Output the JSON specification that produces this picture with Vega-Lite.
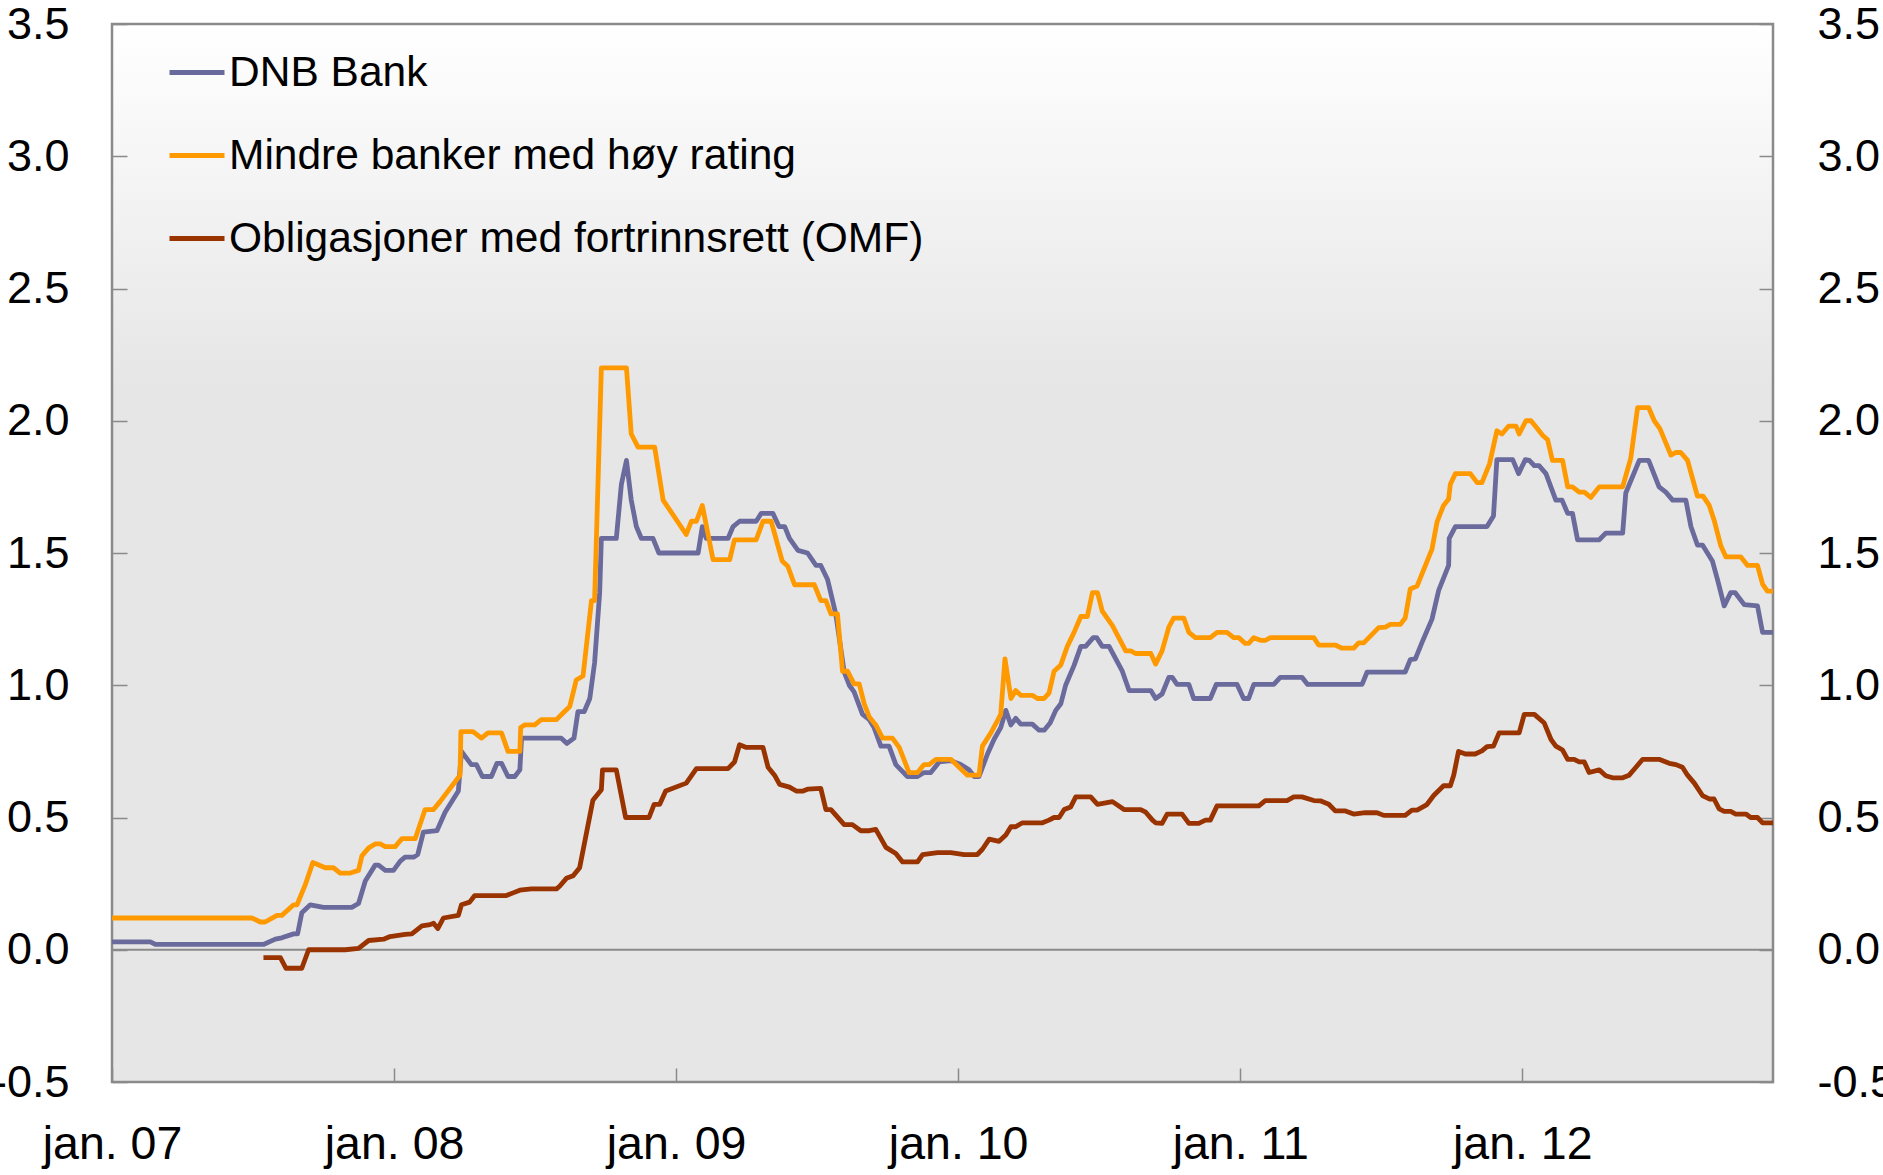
{
"$schema":"https://vega.github.io/schema/vega-lite/v6.json",
"width":1661,"height":1058,
"autosize":{"type":"none"},
"padding":{"left":112,"top":24,"right":110,"bottom":93},
"background":"#ffffff",
"view":{"fill":{"gradient":"linear","x1":0,"y1":0,"x2":0,"y2":1,"stops":[{"offset":0,"color":"#ffffff"},{"offset":0.34,"color":"#e6e6e6"},{"offset":1,"color":"#e6e6e6"}]},"stroke":"#8a8a8a","strokeWidth":2.5},
"config":{"font":"Liberation Sans","axis":{"labelFont":"Liberation Sans","labelColor":"#000000","tickColor":"#8a8a8a","tickWidth":1.5,"domain":false,"grid":false}},
"data":{"values":[
{"serie":"DNB Bank","t":2007.000,"v":0.03},{"serie":"DNB Bank","t":2007.136,"v":0.03},{"serie":"DNB Bank","t":2007.154,"v":0.02},{"serie":"DNB Bank","t":2007.537,"v":0.02},{"serie":"DNB Bank","t":2007.579,"v":0.04},{"serie":"DNB Bank","t":2007.602,"v":0.045},{"serie":"DNB Bank","t":2007.644,"v":0.06},{"serie":"DNB Bank","t":2007.658,"v":0.06},{"serie":"DNB Bank","t":2007.673,"v":0.14},{"serie":"DNB Bank","t":2007.703,"v":0.17},{"serie":"DNB Bank","t":2007.750,"v":0.16},{"serie":"DNB Bank","t":2007.850,"v":0.16},{"serie":"DNB Bank","t":2007.874,"v":0.175},{"serie":"DNB Bank","t":2007.898,"v":0.26},{"serie":"DNB Bank","t":2007.933,"v":0.32},{"serie":"DNB Bank","t":2007.945,"v":0.32},{"serie":"DNB Bank","t":2007.969,"v":0.30},{"serie":"DNB Bank","t":2007.998,"v":0.30},{"serie":"DNB Bank","t":2008.022,"v":0.335},{"serie":"DNB Bank","t":2008.039,"v":0.35},{"serie":"DNB Bank","t":2008.069,"v":0.35},{"serie":"DNB Bank","t":2008.084,"v":0.36},{"serie":"DNB Bank","t":2008.104,"v":0.445},{"serie":"DNB Bank","t":2008.152,"v":0.45},{"serie":"DNB Bank","t":2008.181,"v":0.52},{"serie":"DNB Bank","t":2008.228,"v":0.60},{"serie":"DNB Bank","t":2008.239,"v":0.75},{"serie":"DNB Bank","t":2008.274,"v":0.70},{"serie":"DNB Bank","t":2008.292,"v":0.70},{"serie":"DNB Bank","t":2008.313,"v":0.655},{"serie":"DNB Bank","t":2008.345,"v":0.655},{"serie":"DNB Bank","t":2008.365,"v":0.705},{"serie":"DNB Bank","t":2008.381,"v":0.705},{"serie":"DNB Bank","t":2008.404,"v":0.655},{"serie":"DNB Bank","t":2008.428,"v":0.655},{"serie":"DNB Bank","t":2008.446,"v":0.68},{"serie":"DNB Bank","t":2008.452,"v":0.80},{"serie":"DNB Bank","t":2008.593,"v":0.80},{"serie":"DNB Bank","t":2008.613,"v":0.78},{"serie":"DNB Bank","t":2008.638,"v":0.80},{"serie":"DNB Bank","t":2008.652,"v":0.90},{"serie":"DNB Bank","t":2008.674,"v":0.90},{"serie":"DNB Bank","t":2008.694,"v":0.95},{"serie":"DNB Bank","t":2008.711,"v":1.085},{"serie":"DNB Bank","t":2008.729,"v":1.35},{"serie":"DNB Bank","t":2008.735,"v":1.555},{"serie":"DNB Bank","t":2008.788,"v":1.555},{"serie":"DNB Bank","t":2008.806,"v":1.76},{"serie":"DNB Bank","t":2008.824,"v":1.85},{"serie":"DNB Bank","t":2008.841,"v":1.70},{"serie":"DNB Bank","t":2008.859,"v":1.60},{"serie":"DNB Bank","t":2008.877,"v":1.555},{"serie":"DNB Bank","t":2008.918,"v":1.555},{"serie":"DNB Bank","t":2008.939,"v":1.50},{"serie":"DNB Bank","t":2009.078,"v":1.50},{"serie":"DNB Bank","t":2009.093,"v":1.60},{"serie":"DNB Bank","t":2009.107,"v":1.555},{"serie":"DNB Bank","t":2009.184,"v":1.555},{"serie":"DNB Bank","t":2009.202,"v":1.60},{"serie":"DNB Bank","t":2009.225,"v":1.62},{"serie":"DNB Bank","t":2009.284,"v":1.62},{"serie":"DNB Bank","t":2009.302,"v":1.65},{"serie":"DNB Bank","t":2009.343,"v":1.65},{"serie":"DNB Bank","t":2009.365,"v":1.60},{"serie":"DNB Bank","t":2009.385,"v":1.60},{"serie":"DNB Bank","t":2009.402,"v":1.555},{"serie":"DNB Bank","t":2009.432,"v":1.51},{"serie":"DNB Bank","t":2009.466,"v":1.50},{"serie":"DNB Bank","t":2009.496,"v":1.453},{"serie":"DNB Bank","t":2009.513,"v":1.453},{"serie":"DNB Bank","t":2009.537,"v":1.40},{"serie":"DNB Bank","t":2009.566,"v":1.27},{"serie":"DNB Bank","t":2009.596,"v":1.05},{"serie":"DNB Bank","t":2009.614,"v":1.00},{"serie":"DNB Bank","t":2009.631,"v":0.975},{"serie":"DNB Bank","t":2009.661,"v":0.89},{"serie":"DNB Bank","t":2009.685,"v":0.87},{"serie":"DNB Bank","t":2009.702,"v":0.84},{"serie":"DNB Bank","t":2009.726,"v":0.77},{"serie":"DNB Bank","t":2009.755,"v":0.77},{"serie":"DNB Bank","t":2009.779,"v":0.70},{"serie":"DNB Bank","t":2009.797,"v":0.68},{"serie":"DNB Bank","t":2009.820,"v":0.655},{"serie":"DNB Bank","t":2009.856,"v":0.655},{"serie":"DNB Bank","t":2009.879,"v":0.67},{"serie":"DNB Bank","t":2009.903,"v":0.67},{"serie":"DNB Bank","t":2009.933,"v":0.71},{"serie":"DNB Bank","t":2009.974,"v":0.715},{"serie":"DNB Bank","t":2010.009,"v":0.70},{"serie":"DNB Bank","t":2010.039,"v":0.68},{"serie":"DNB Bank","t":2010.057,"v":0.655},{"serie":"DNB Bank","t":2010.074,"v":0.655},{"serie":"DNB Bank","t":2010.104,"v":0.74},{"serie":"DNB Bank","t":2010.127,"v":0.795},{"serie":"DNB Bank","t":2010.151,"v":0.84},{"serie":"DNB Bank","t":2010.169,"v":0.905},{"serie":"DNB Bank","t":2010.187,"v":0.85},{"serie":"DNB Bank","t":2010.204,"v":0.875},{"serie":"DNB Bank","t":2010.222,"v":0.853},{"serie":"DNB Bank","t":2010.263,"v":0.853},{"serie":"DNB Bank","t":2010.287,"v":0.83},{"serie":"DNB Bank","t":2010.305,"v":0.83},{"serie":"DNB Bank","t":2010.326,"v":0.857},{"serie":"DNB Bank","t":2010.346,"v":0.905},{"serie":"DNB Bank","t":2010.364,"v":0.93},{"serie":"DNB Bank","t":2010.381,"v":1.00},{"serie":"DNB Bank","t":2010.411,"v":1.075},{"serie":"DNB Bank","t":2010.435,"v":1.147},{"serie":"DNB Bank","t":2010.452,"v":1.147},{"serie":"DNB Bank","t":2010.479,"v":1.18},{"serie":"DNB Bank","t":2010.491,"v":1.18},{"serie":"DNB Bank","t":2010.511,"v":1.147},{"serie":"DNB Bank","t":2010.535,"v":1.147},{"serie":"DNB Bank","t":2010.582,"v":1.053},{"serie":"DNB Bank","t":2010.606,"v":0.98},{"serie":"DNB Bank","t":2010.683,"v":0.98},{"serie":"DNB Bank","t":2010.700,"v":0.95},{"serie":"DNB Bank","t":2010.723,"v":0.967},{"serie":"DNB Bank","t":2010.747,"v":1.03},{"serie":"DNB Bank","t":2010.759,"v":1.03},{"serie":"DNB Bank","t":2010.776,"v":1.003},{"serie":"DNB Bank","t":2010.818,"v":1.003},{"serie":"DNB Bank","t":2010.835,"v":0.95},{"serie":"DNB Bank","t":2010.894,"v":0.95},{"serie":"DNB Bank","t":2010.915,"v":1.003},{"serie":"DNB Bank","t":2010.989,"v":1.003},{"serie":"DNB Bank","t":2011.012,"v":0.95},{"serie":"DNB Bank","t":2011.030,"v":0.95},{"serie":"DNB Bank","t":2011.048,"v":1.003},{"serie":"DNB Bank","t":2011.119,"v":1.003},{"serie":"DNB Bank","t":2011.142,"v":1.03},{"serie":"DNB Bank","t":2011.219,"v":1.03},{"serie":"DNB Bank","t":2011.239,"v":1.003},{"serie":"DNB Bank","t":2011.432,"v":1.003},{"serie":"DNB Bank","t":2011.450,"v":1.05},{"serie":"DNB Bank","t":2011.585,"v":1.05},{"serie":"DNB Bank","t":2011.603,"v":1.097},{"serie":"DNB Bank","t":2011.621,"v":1.10},{"serie":"DNB Bank","t":2011.645,"v":1.163},{"serie":"DNB Bank","t":2011.680,"v":1.25},{"serie":"DNB Bank","t":2011.704,"v":1.36},{"serie":"DNB Bank","t":2011.739,"v":1.453},{"serie":"DNB Bank","t":2011.741,"v":1.555},{"serie":"DNB Bank","t":2011.763,"v":1.60},{"serie":"DNB Bank","t":2011.875,"v":1.60},{"serie":"DNB Bank","t":2011.898,"v":1.64},{"serie":"DNB Bank","t":2011.910,"v":1.853},{"serie":"DNB Bank","t":2011.966,"v":1.853},{"serie":"DNB Bank","t":2011.987,"v":1.80},{"serie":"DNB Bank","t":2012.011,"v":1.853},{"serie":"DNB Bank","t":2012.025,"v":1.85},{"serie":"DNB Bank","t":2012.043,"v":1.83},{"serie":"DNB Bank","t":2012.060,"v":1.83},{"serie":"DNB Bank","t":2012.084,"v":1.80},{"serie":"DNB Bank","t":2012.119,"v":1.70},{"serie":"DNB Bank","t":2012.141,"v":1.70},{"serie":"DNB Bank","t":2012.161,"v":1.65},{"serie":"DNB Bank","t":2012.178,"v":1.65},{"serie":"DNB Bank","t":2012.196,"v":1.55},{"serie":"DNB Bank","t":2012.273,"v":1.55},{"serie":"DNB Bank","t":2012.296,"v":1.575},{"serie":"DNB Bank","t":2012.356,"v":1.575},{"serie":"DNB Bank","t":2012.367,"v":1.727},{"serie":"DNB Bank","t":2012.415,"v":1.85},{"serie":"DNB Bank","t":2012.448,"v":1.85},{"serie":"DNB Bank","t":2012.485,"v":1.75},{"serie":"DNB Bank","t":2012.509,"v":1.73},{"serie":"DNB Bank","t":2012.533,"v":1.70},{"serie":"DNB Bank","t":2012.580,"v":1.70},{"serie":"DNB Bank","t":2012.598,"v":1.60},{"serie":"DNB Bank","t":2012.621,"v":1.53},{"serie":"DNB Bank","t":2012.639,"v":1.53},{"serie":"DNB Bank","t":2012.674,"v":1.47},{"serie":"DNB Bank","t":2012.692,"v":1.40},{"serie":"DNB Bank","t":2012.716,"v":1.30},{"serie":"DNB Bank","t":2012.739,"v":1.35},{"serie":"DNB Bank","t":2012.755,"v":1.35},{"serie":"DNB Bank","t":2012.787,"v":1.305},{"serie":"DNB Bank","t":2012.834,"v":1.30},{"serie":"DNB Bank","t":2012.852,"v":1.20},{"serie":"DNB Bank","t":2012.889,"v":1.20},
{"serie":"Mindre banker med høy rating","t":2007.000,"v":0.12},{"serie":"Mindre banker med høy rating","t":2007.496,"v":0.12},{"serie":"Mindre banker med høy rating","t":2007.526,"v":0.105},{"serie":"Mindre banker med høy rating","t":2007.543,"v":0.105},{"serie":"Mindre banker med høy rating","t":2007.585,"v":0.13},{"serie":"Mindre banker med høy rating","t":2007.602,"v":0.13},{"serie":"Mindre banker med høy rating","t":2007.644,"v":0.17},{"serie":"Mindre banker med høy rating","t":2007.656,"v":0.17},{"serie":"Mindre banker med høy rating","t":2007.685,"v":0.245},{"serie":"Mindre banker med høy rating","t":2007.712,"v":0.33},{"serie":"Mindre banker med høy rating","t":2007.756,"v":0.31},{"serie":"Mindre banker med høy rating","t":2007.785,"v":0.31},{"serie":"Mindre banker med høy rating","t":2007.809,"v":0.29},{"serie":"Mindre banker med høy rating","t":2007.845,"v":0.29},{"serie":"Mindre banker med høy rating","t":2007.874,"v":0.30},{"serie":"Mindre banker med høy rating","t":2007.886,"v":0.355},{"serie":"Mindre banker med høy rating","t":2007.910,"v":0.385},{"serie":"Mindre banker med høy rating","t":2007.933,"v":0.40},{"serie":"Mindre banker med høy rating","t":2007.951,"v":0.40},{"serie":"Mindre banker med høy rating","t":2007.969,"v":0.39},{"serie":"Mindre banker med høy rating","t":2008.004,"v":0.39},{"serie":"Mindre banker med høy rating","t":2008.028,"v":0.42},{"serie":"Mindre banker med høy rating","t":2008.075,"v":0.42},{"serie":"Mindre banker med høy rating","t":2008.110,"v":0.53},{"serie":"Mindre banker med høy rating","t":2008.140,"v":0.53},{"serie":"Mindre banker med høy rating","t":2008.163,"v":0.56},{"serie":"Mindre banker med høy rating","t":2008.234,"v":0.66},{"serie":"Mindre banker med høy rating","t":2008.237,"v":0.825},{"serie":"Mindre banker med høy rating","t":2008.280,"v":0.825},{"serie":"Mindre banker med høy rating","t":2008.310,"v":0.80},{"serie":"Mindre banker med høy rating","t":2008.333,"v":0.82},{"serie":"Mindre banker med høy rating","t":2008.381,"v":0.82},{"serie":"Mindre banker med høy rating","t":2008.404,"v":0.75},{"serie":"Mindre banker med høy rating","t":2008.446,"v":0.75},{"serie":"Mindre banker med høy rating","t":2008.449,"v":0.84},{"serie":"Mindre banker med høy rating","t":2008.463,"v":0.85},{"serie":"Mindre banker med høy rating","t":2008.499,"v":0.85},{"serie":"Mindre banker med høy rating","t":2008.522,"v":0.87},{"serie":"Mindre banker med høy rating","t":2008.576,"v":0.87},{"serie":"Mindre banker med høy rating","t":2008.599,"v":0.895},{"serie":"Mindre banker med høy rating","t":2008.623,"v":0.92},{"serie":"Mindre banker med høy rating","t":2008.646,"v":1.02},{"serie":"Mindre banker med høy rating","t":2008.670,"v":1.035},{"serie":"Mindre banker med høy rating","t":2008.700,"v":1.32},{"serie":"Mindre banker med høy rating","t":2008.711,"v":1.32},{"serie":"Mindre banker med høy rating","t":2008.735,"v":2.20},{"serie":"Mindre banker med høy rating","t":2008.824,"v":2.20},{"serie":"Mindre banker med høy rating","t":2008.841,"v":1.95},{"serie":"Mindre banker med høy rating","t":2008.865,"v":1.90},{"serie":"Mindre banker med høy rating","t":2008.924,"v":1.90},{"serie":"Mindre banker med høy rating","t":2008.954,"v":1.70},{"serie":"Mindre banker med høy rating","t":2009.036,"v":1.57},{"serie":"Mindre banker med høy rating","t":2009.054,"v":1.62},{"serie":"Mindre banker med høy rating","t":2009.072,"v":1.62},{"serie":"Mindre banker med høy rating","t":2009.093,"v":1.68},{"serie":"Mindre banker med høy rating","t":2009.131,"v":1.475},{"serie":"Mindre banker med høy rating","t":2009.190,"v":1.475},{"serie":"Mindre banker med høy rating","t":2009.207,"v":1.55},{"serie":"Mindre banker med høy rating","t":2009.284,"v":1.55},{"serie":"Mindre banker med høy rating","t":2009.308,"v":1.62},{"serie":"Mindre banker med høy rating","t":2009.337,"v":1.62},{"serie":"Mindre banker med høy rating","t":2009.376,"v":1.47},{"serie":"Mindre banker med høy rating","t":2009.396,"v":1.45},{"serie":"Mindre banker med høy rating","t":2009.420,"v":1.38},{"serie":"Mindre banker med høy rating","t":2009.490,"v":1.38},{"serie":"Mindre banker med høy rating","t":2009.513,"v":1.32},{"serie":"Mindre banker med høy rating","t":2009.531,"v":1.32},{"serie":"Mindre banker med høy rating","t":2009.549,"v":1.27},{"serie":"Mindre banker med høy rating","t":2009.572,"v":1.27},{"serie":"Mindre banker med høy rating","t":2009.590,"v":1.053},{"serie":"Mindre banker med høy rating","t":2009.608,"v":1.053},{"serie":"Mindre banker med høy rating","t":2009.631,"v":1.005},{"serie":"Mindre banker med høy rating","t":2009.649,"v":1.005},{"serie":"Mindre banker med høy rating","t":2009.667,"v":0.93},{"serie":"Mindre banker med høy rating","t":2009.685,"v":0.88},{"serie":"Mindre banker med høy rating","t":2009.708,"v":0.85},{"serie":"Mindre banker med høy rating","t":2009.732,"v":0.80},{"serie":"Mindre banker med høy rating","t":2009.767,"v":0.80},{"serie":"Mindre banker med høy rating","t":2009.791,"v":0.765},{"serie":"Mindre banker med høy rating","t":2009.826,"v":0.67},{"serie":"Mindre banker med høy rating","t":2009.856,"v":0.67},{"serie":"Mindre banker med høy rating","t":2009.879,"v":0.70},{"serie":"Mindre banker med høy rating","t":2009.897,"v":0.70},{"serie":"Mindre banker med høy rating","t":2009.921,"v":0.72},{"serie":"Mindre banker med høy rating","t":2009.974,"v":0.72},{"serie":"Mindre banker med høy rating","t":2010.033,"v":0.66},{"serie":"Mindre banker med høy rating","t":2010.074,"v":0.66},{"serie":"Mindre banker med høy rating","t":2010.086,"v":0.77},{"serie":"Mindre banker med høy rating","t":2010.116,"v":0.82},{"serie":"Mindre banker med høy rating","t":2010.139,"v":0.865},{"serie":"Mindre banker med høy rating","t":2010.151,"v":0.89},{"serie":"Mindre banker med høy rating","t":2010.166,"v":1.10},{"serie":"Mindre banker med høy rating","t":2010.187,"v":0.95},{"serie":"Mindre banker med høy rating","t":2010.204,"v":0.98},{"serie":"Mindre banker med høy rating","t":2010.222,"v":0.962},{"serie":"Mindre banker med høy rating","t":2010.263,"v":0.962},{"serie":"Mindre banker med høy rating","t":2010.281,"v":0.95},{"serie":"Mindre banker med høy rating","t":2010.305,"v":0.95},{"serie":"Mindre banker med høy rating","t":2010.322,"v":0.97},{"serie":"Mindre banker med høy rating","t":2010.340,"v":1.053},{"serie":"Mindre banker med høy rating","t":2010.364,"v":1.077},{"serie":"Mindre banker med høy rating","t":2010.387,"v":1.147},{"serie":"Mindre banker med høy rating","t":2010.411,"v":1.20},{"serie":"Mindre banker med høy rating","t":2010.435,"v":1.26},{"serie":"Mindre banker med høy rating","t":2010.458,"v":1.26},{"serie":"Mindre banker med høy rating","t":2010.476,"v":1.35},{"serie":"Mindre banker med høy rating","t":2010.494,"v":1.35},{"serie":"Mindre banker med høy rating","t":2010.511,"v":1.28},{"serie":"Mindre banker med høy rating","t":2010.547,"v":1.225},{"serie":"Mindre banker med høy rating","t":2010.594,"v":1.13},{"serie":"Mindre banker med høy rating","t":2010.612,"v":1.13},{"serie":"Mindre banker med høy rating","t":2010.629,"v":1.12},{"serie":"Mindre banker med høy rating","t":2010.683,"v":1.12},{"serie":"Mindre banker med høy rating","t":2010.700,"v":1.08},{"serie":"Mindre banker med høy rating","t":2010.723,"v":1.13},{"serie":"Mindre banker med høy rating","t":2010.747,"v":1.22},{"serie":"Mindre banker med høy rating","t":2010.764,"v":1.254},{"serie":"Mindre banker med høy rating","t":2010.800,"v":1.254},{"serie":"Mindre banker med høy rating","t":2010.818,"v":1.20},{"serie":"Mindre banker med høy rating","t":2010.841,"v":1.18},{"serie":"Mindre banker med høy rating","t":2010.894,"v":1.18},{"serie":"Mindre banker med høy rating","t":2010.918,"v":1.20},{"serie":"Mindre banker med høy rating","t":2010.953,"v":1.20},{"serie":"Mindre banker med høy rating","t":2010.977,"v":1.18},{"serie":"Mindre banker med høy rating","t":2010.995,"v":1.18},{"serie":"Mindre banker med høy rating","t":2011.018,"v":1.158},{"serie":"Mindre banker med høy rating","t":2011.030,"v":1.158},{"serie":"Mindre banker med høy rating","t":2011.048,"v":1.18},{"serie":"Mindre banker med høy rating","t":2011.072,"v":1.17},{"serie":"Mindre banker med høy rating","t":2011.089,"v":1.17},{"serie":"Mindre banker med høy rating","t":2011.107,"v":1.18},{"serie":"Mindre banker med høy rating","t":2011.261,"v":1.18},{"serie":"Mindre banker med høy rating","t":2011.278,"v":1.152},{"serie":"Mindre banker med høy rating","t":2011.337,"v":1.152},{"serie":"Mindre banker med høy rating","t":2011.361,"v":1.14},{"serie":"Mindre banker med høy rating","t":2011.402,"v":1.14},{"serie":"Mindre banker med høy rating","t":2011.420,"v":1.16},{"serie":"Mindre banker med høy rating","t":2011.438,"v":1.16},{"serie":"Mindre banker med høy rating","t":2011.491,"v":1.218},{"serie":"Mindre banker med høy rating","t":2011.515,"v":1.22},{"serie":"Mindre banker med høy rating","t":2011.532,"v":1.23},{"serie":"Mindre banker med høy rating","t":2011.568,"v":1.23},{"serie":"Mindre banker med høy rating","t":2011.585,"v":1.254},{"serie":"Mindre banker med høy rating","t":2011.603,"v":1.364},{"serie":"Mindre banker med høy rating","t":2011.627,"v":1.375},{"serie":"Mindre banker med høy rating","t":2011.680,"v":1.515},{"serie":"Mindre banker med høy rating","t":2011.698,"v":1.618},{"serie":"Mindre banker med høy rating","t":2011.721,"v":1.68},{"serie":"Mindre banker med høy rating","t":2011.739,"v":1.704},{"serie":"Mindre banker med høy rating","t":2011.745,"v":1.76},{"serie":"Mindre banker med høy rating","t":2011.763,"v":1.80},{"serie":"Mindre banker med høy rating","t":2011.816,"v":1.80},{"serie":"Mindre banker med høy rating","t":2011.840,"v":1.766},{"serie":"Mindre banker med høy rating","t":2011.857,"v":1.766},{"serie":"Mindre banker med høy rating","t":2011.884,"v":1.837},{"serie":"Mindre banker med høy rating","t":2011.910,"v":1.962},{"serie":"Mindre banker med høy rating","t":2011.928,"v":1.95},{"serie":"Mindre banker med høy rating","t":2011.952,"v":1.98},{"serie":"Mindre banker med høy rating","t":2011.978,"v":1.98},{"serie":"Mindre banker med høy rating","t":2011.989,"v":1.95},{"serie":"Mindre banker med høy rating","t":2012.013,"v":2.00},{"serie":"Mindre banker med høy rating","t":2012.031,"v":2.00},{"serie":"Mindre banker med høy rating","t":2012.054,"v":1.97},{"serie":"Mindre banker med høy rating","t":2012.072,"v":1.945},{"serie":"Mindre banker med høy rating","t":2012.090,"v":1.928},{"serie":"Mindre banker med høy rating","t":2012.107,"v":1.85},{"serie":"Mindre banker med høy rating","t":2012.143,"v":1.85},{"serie":"Mindre banker med høy rating","t":2012.161,"v":1.75},{"serie":"Mindre banker med høy rating","t":2012.178,"v":1.75},{"serie":"Mindre banker med høy rating","t":2012.202,"v":1.73},{"serie":"Mindre banker med høy rating","t":2012.220,"v":1.73},{"serie":"Mindre banker med høy rating","t":2012.243,"v":1.71},{"serie":"Mindre banker med høy rating","t":2012.273,"v":1.75},{"serie":"Mindre banker med høy rating","t":2012.356,"v":1.75},{"serie":"Mindre banker med høy rating","t":2012.385,"v":1.86},{"serie":"Mindre banker med høy rating","t":2012.409,"v":2.05},{"serie":"Mindre banker med høy rating","t":2012.448,"v":2.05},{"serie":"Mindre banker med høy rating","t":2012.468,"v":2.00},{"serie":"Mindre banker med høy rating","t":2012.488,"v":1.97},{"serie":"Mindre banker med høy rating","t":2012.527,"v":1.87},{"serie":"Mindre banker med høy rating","t":2012.545,"v":1.88},{"serie":"Mindre banker med høy rating","t":2012.562,"v":1.88},{"serie":"Mindre banker med høy rating","t":2012.586,"v":1.85},{"serie":"Mindre banker med høy rating","t":2012.621,"v":1.715},{"serie":"Mindre banker med høy rating","t":2012.641,"v":1.715},{"serie":"Mindre banker med høy rating","t":2012.663,"v":1.68},{"serie":"Mindre banker med høy rating","t":2012.680,"v":1.625},{"serie":"Mindre banker med høy rating","t":2012.704,"v":1.527},{"serie":"Mindre banker med høy rating","t":2012.722,"v":1.485},{"serie":"Mindre banker med høy rating","t":2012.775,"v":1.485},{"serie":"Mindre banker med høy rating","t":2012.799,"v":1.453},{"serie":"Mindre banker med høy rating","t":2012.834,"v":1.453},{"serie":"Mindre banker med høy rating","t":2012.852,"v":1.382},{"serie":"Mindre banker med høy rating","t":2012.869,"v":1.356},{"serie":"Mindre banker med høy rating","t":2012.889,"v":1.356},
{"serie":"Obligasjoner med fortrinnsrett (OMF)","t":2007.537,"v":-0.03},{"serie":"Obligasjoner med fortrinnsrett (OMF)","t":2007.597,"v":-0.03},{"serie":"Obligasjoner med fortrinnsrett (OMF)","t":2007.617,"v":-0.07},{"serie":"Obligasjoner med fortrinnsrett (OMF)","t":2007.673,"v":-0.07},{"serie":"Obligasjoner med fortrinnsrett (OMF)","t":2007.697,"v":0.0},{"serie":"Obligasjoner med fortrinnsrett (OMF)","t":2007.827,"v":0.0},{"serie":"Obligasjoner med fortrinnsrett (OMF)","t":2007.874,"v":0.005},{"serie":"Obligasjoner med fortrinnsrett (OMF)","t":2007.910,"v":0.035},{"serie":"Obligasjoner med fortrinnsrett (OMF)","t":2007.963,"v":0.04},{"serie":"Obligasjoner med fortrinnsrett (OMF)","t":2007.986,"v":0.05},{"serie":"Obligasjoner med fortrinnsrett (OMF)","t":2008.039,"v":0.058},{"serie":"Obligasjoner med fortrinnsrett (OMF)","t":2008.063,"v":0.06},{"serie":"Obligasjoner med fortrinnsrett (OMF)","t":2008.099,"v":0.09},{"serie":"Obligasjoner med fortrinnsrett (OMF)","t":2008.128,"v":0.095},{"serie":"Obligasjoner med fortrinnsrett (OMF)","t":2008.140,"v":0.10},{"serie":"Obligasjoner med fortrinnsrett (OMF)","t":2008.155,"v":0.08},{"serie":"Obligasjoner med fortrinnsrett (OMF)","t":2008.175,"v":0.12},{"serie":"Obligasjoner med fortrinnsrett (OMF)","t":2008.228,"v":0.13},{"serie":"Obligasjoner med fortrinnsrett (OMF)","t":2008.239,"v":0.17},{"serie":"Obligasjoner med fortrinnsrett (OMF)","t":2008.268,"v":0.18},{"serie":"Obligasjoner med fortrinnsrett (OMF)","t":2008.286,"v":0.205},{"serie":"Obligasjoner med fortrinnsrett (OMF)","t":2008.398,"v":0.205},{"serie":"Obligasjoner med fortrinnsrett (OMF)","t":2008.422,"v":0.215},{"serie":"Obligasjoner med fortrinnsrett (OMF)","t":2008.446,"v":0.225},{"serie":"Obligasjoner med fortrinnsrett (OMF)","t":2008.487,"v":0.23},{"serie":"Obligasjoner med fortrinnsrett (OMF)","t":2008.576,"v":0.23},{"serie":"Obligasjoner med fortrinnsrett (OMF)","t":2008.587,"v":0.24},{"serie":"Obligasjoner med fortrinnsrett (OMF)","t":2008.611,"v":0.27},{"serie":"Obligasjoner med fortrinnsrett (OMF)","t":2008.635,"v":0.28},{"serie":"Obligasjoner med fortrinnsrett (OMF)","t":2008.658,"v":0.31},{"serie":"Obligasjoner med fortrinnsrett (OMF)","t":2008.705,"v":0.565},{"serie":"Obligasjoner med fortrinnsrett (OMF)","t":2008.735,"v":0.605},{"serie":"Obligasjoner med fortrinnsrett (OMF)","t":2008.739,"v":0.68},{"serie":"Obligasjoner med fortrinnsrett (OMF)","t":2008.788,"v":0.68},{"serie":"Obligasjoner med fortrinnsrett (OMF)","t":2008.821,"v":0.50},{"serie":"Obligasjoner med fortrinnsrett (OMF)","t":2008.904,"v":0.50},{"serie":"Obligasjoner med fortrinnsrett (OMF)","t":2008.922,"v":0.55},{"serie":"Obligasjoner med fortrinnsrett (OMF)","t":2008.942,"v":0.55},{"serie":"Obligasjoner med fortrinnsrett (OMF)","t":2008.963,"v":0.60},{"serie":"Obligasjoner med fortrinnsrett (OMF)","t":2009.036,"v":0.63},{"serie":"Obligasjoner med fortrinnsrett (OMF)","t":2009.072,"v":0.685},{"serie":"Obligasjoner med fortrinnsrett (OMF)","t":2009.184,"v":0.685},{"serie":"Obligasjoner med fortrinnsrett (OMF)","t":2009.207,"v":0.71},{"serie":"Obligasjoner med fortrinnsrett (OMF)","t":2009.225,"v":0.775},{"serie":"Obligasjoner med fortrinnsrett (OMF)","t":2009.249,"v":0.765},{"serie":"Obligasjoner med fortrinnsrett (OMF)","t":2009.308,"v":0.765},{"serie":"Obligasjoner med fortrinnsrett (OMF)","t":2009.326,"v":0.69},{"serie":"Obligasjoner med fortrinnsrett (OMF)","t":2009.349,"v":0.66},{"serie":"Obligasjoner med fortrinnsrett (OMF)","t":2009.367,"v":0.625},{"serie":"Obligasjoner med fortrinnsrett (OMF)","t":2009.402,"v":0.615},{"serie":"Obligasjoner med fortrinnsrett (OMF)","t":2009.426,"v":0.60},{"serie":"Obligasjoner med fortrinnsrett (OMF)","t":2009.450,"v":0.60},{"serie":"Obligasjoner med fortrinnsrett (OMF)","t":2009.466,"v":0.607},{"serie":"Obligasjoner med fortrinnsrett (OMF)","t":2009.513,"v":0.61},{"serie":"Obligasjoner med fortrinnsrett (OMF)","t":2009.531,"v":0.53},{"serie":"Obligasjoner med fortrinnsrett (OMF)","t":2009.549,"v":0.53},{"serie":"Obligasjoner med fortrinnsrett (OMF)","t":2009.596,"v":0.473},{"serie":"Obligasjoner med fortrinnsrett (OMF)","t":2009.625,"v":0.473},{"serie":"Obligasjoner med fortrinnsrett (OMF)","t":2009.655,"v":0.45},{"serie":"Obligasjoner med fortrinnsrett (OMF)","t":2009.685,"v":0.45},{"serie":"Obligasjoner med fortrinnsrett (OMF)","t":2009.708,"v":0.455},{"serie":"Obligasjoner med fortrinnsrett (OMF)","t":2009.744,"v":0.387},{"serie":"Obligasjoner med fortrinnsrett (OMF)","t":2009.779,"v":0.364},{"serie":"Obligasjoner med fortrinnsrett (OMF)","t":2009.803,"v":0.332},{"serie":"Obligasjoner med fortrinnsrett (OMF)","t":2009.856,"v":0.332},{"serie":"Obligasjoner med fortrinnsrett (OMF)","t":2009.874,"v":0.36},{"serie":"Obligasjoner med fortrinnsrett (OMF)","t":2009.927,"v":0.367},{"serie":"Obligasjoner med fortrinnsrett (OMF)","t":2009.974,"v":0.367},{"serie":"Obligasjoner med fortrinnsrett (OMF)","t":2010.021,"v":0.36},{"serie":"Obligasjoner med fortrinnsrett (OMF)","t":2010.068,"v":0.36},{"serie":"Obligasjoner med fortrinnsrett (OMF)","t":2010.086,"v":0.38},{"serie":"Obligasjoner med fortrinnsrett (OMF)","t":2010.110,"v":0.418},{"serie":"Obligasjoner med fortrinnsrett (OMF)","t":2010.145,"v":0.41},{"serie":"Obligasjoner med fortrinnsrett (OMF)","t":2010.169,"v":0.434},{"serie":"Obligasjoner med fortrinnsrett (OMF)","t":2010.187,"v":0.465},{"serie":"Obligasjoner med fortrinnsrett (OMF)","t":2010.204,"v":0.465},{"serie":"Obligasjoner med fortrinnsrett (OMF)","t":2010.228,"v":0.48},{"serie":"Obligasjoner med fortrinnsrett (OMF)","t":2010.299,"v":0.48},{"serie":"Obligasjoner med fortrinnsrett (OMF)","t":2010.322,"v":0.49},{"serie":"Obligasjoner med fortrinnsrett (OMF)","t":2010.340,"v":0.50},{"serie":"Obligasjoner med fortrinnsrett (OMF)","t":2010.358,"v":0.50},{"serie":"Obligasjoner med fortrinnsrett (OMF)","t":2010.376,"v":0.53},{"serie":"Obligasjoner med fortrinnsrett (OMF)","t":2010.399,"v":0.54},{"serie":"Obligasjoner med fortrinnsrett (OMF)","t":2010.417,"v":0.578},{"serie":"Obligasjoner med fortrinnsrett (OMF)","t":2010.470,"v":0.578},{"serie":"Obligasjoner med fortrinnsrett (OMF)","t":2010.494,"v":0.55},{"serie":"Obligasjoner med fortrinnsrett (OMF)","t":2010.547,"v":0.56},{"serie":"Obligasjoner med fortrinnsrett (OMF)","t":2010.588,"v":0.53},{"serie":"Obligasjoner med fortrinnsrett (OMF)","t":2010.647,"v":0.53},{"serie":"Obligasjoner med fortrinnsrett (OMF)","t":2010.665,"v":0.52},{"serie":"Obligasjoner med fortrinnsrett (OMF)","t":2010.689,"v":0.49},{"serie":"Obligasjoner med fortrinnsrett (OMF)","t":2010.700,"v":0.48},{"serie":"Obligasjoner med fortrinnsrett (OMF)","t":2010.723,"v":0.478},{"serie":"Obligasjoner med fortrinnsrett (OMF)","t":2010.741,"v":0.513},{"serie":"Obligasjoner med fortrinnsrett (OMF)","t":2010.794,"v":0.513},{"serie":"Obligasjoner med fortrinnsrett (OMF)","t":2010.818,"v":0.478},{"serie":"Obligasjoner med fortrinnsrett (OMF)","t":2010.853,"v":0.478},{"serie":"Obligasjoner med fortrinnsrett (OMF)","t":2010.877,"v":0.49},{"serie":"Obligasjoner med fortrinnsrett (OMF)","t":2010.894,"v":0.49},{"serie":"Obligasjoner med fortrinnsrett (OMF)","t":2010.918,"v":0.544},{"serie":"Obligasjoner med fortrinnsrett (OMF)","t":2011.066,"v":0.544},{"serie":"Obligasjoner med fortrinnsrett (OMF)","t":2011.089,"v":0.564},{"serie":"Obligasjoner med fortrinnsrett (OMF)","t":2011.166,"v":0.564},{"serie":"Obligasjoner med fortrinnsrett (OMF)","t":2011.190,"v":0.578},{"serie":"Obligasjoner med fortrinnsrett (OMF)","t":2011.219,"v":0.578},{"serie":"Obligasjoner med fortrinnsrett (OMF)","t":2011.261,"v":0.564},{"serie":"Obligasjoner med fortrinnsrett (OMF)","t":2011.284,"v":0.563},{"serie":"Obligasjoner med fortrinnsrett (OMF)","t":2011.314,"v":0.55},{"serie":"Obligasjoner med fortrinnsrett (OMF)","t":2011.337,"v":0.525},{"serie":"Obligasjoner med fortrinnsrett (OMF)","t":2011.373,"v":0.525},{"serie":"Obligasjoner med fortrinnsrett (OMF)","t":2011.402,"v":0.513},{"serie":"Obligasjoner med fortrinnsrett (OMF)","t":2011.444,"v":0.518},{"serie":"Obligasjoner med fortrinnsrett (OMF)","t":2011.485,"v":0.518},{"serie":"Obligasjoner med fortrinnsrett (OMF)","t":2011.509,"v":0.508},{"serie":"Obligasjoner med fortrinnsrett (OMF)","t":2011.585,"v":0.508},{"serie":"Obligasjoner med fortrinnsrett (OMF)","t":2011.609,"v":0.528},{"serie":"Obligasjoner med fortrinnsrett (OMF)","t":2011.627,"v":0.528},{"serie":"Obligasjoner med fortrinnsrett (OMF)","t":2011.662,"v":0.549},{"serie":"Obligasjoner med fortrinnsrett (OMF)","t":2011.686,"v":0.583},{"serie":"Obligasjoner med fortrinnsrett (OMF)","t":2011.721,"v":0.62},{"serie":"Obligasjoner med fortrinnsrett (OMF)","t":2011.745,"v":0.62},{"serie":"Obligasjoner med fortrinnsrett (OMF)","t":2011.757,"v":0.66},{"serie":"Obligasjoner med fortrinnsrett (OMF)","t":2011.774,"v":0.75},{"serie":"Obligasjoner med fortrinnsrett (OMF)","t":2011.798,"v":0.74},{"serie":"Obligasjoner med fortrinnsrett (OMF)","t":2011.833,"v":0.74},{"serie":"Obligasjoner med fortrinnsrett (OMF)","t":2011.857,"v":0.752},{"serie":"Obligasjoner med fortrinnsrett (OMF)","t":2011.875,"v":0.768},{"serie":"Obligasjoner med fortrinnsrett (OMF)","t":2011.898,"v":0.77},{"serie":"Obligasjoner med fortrinnsrett (OMF)","t":2011.918,"v":0.82},{"serie":"Obligasjoner med fortrinnsrett (OMF)","t":2011.989,"v":0.82},{"serie":"Obligasjoner med fortrinnsrett (OMF)","t":2012.007,"v":0.89},{"serie":"Obligasjoner med fortrinnsrett (OMF)","t":2012.043,"v":0.89},{"serie":"Obligasjoner med fortrinnsrett (OMF)","t":2012.078,"v":0.857},{"serie":"Obligasjoner med fortrinnsrett (OMF)","t":2012.102,"v":0.795},{"serie":"Obligasjoner med fortrinnsrett (OMF)","t":2012.119,"v":0.77},{"serie":"Obligasjoner med fortrinnsrett (OMF)","t":2012.143,"v":0.755},{"serie":"Obligasjoner med fortrinnsrett (OMF)","t":2012.161,"v":0.72},{"serie":"Obligasjoner med fortrinnsrett (OMF)","t":2012.184,"v":0.72},{"serie":"Obligasjoner med fortrinnsrett (OMF)","t":2012.202,"v":0.71},{"serie":"Obligasjoner med fortrinnsrett (OMF)","t":2012.220,"v":0.71},{"serie":"Obligasjoner med fortrinnsrett (OMF)","t":2012.237,"v":0.67},{"serie":"Obligasjoner med fortrinnsrett (OMF)","t":2012.273,"v":0.68},{"serie":"Obligasjoner med fortrinnsrett (OMF)","t":2012.296,"v":0.658},{"serie":"Obligasjoner med fortrinnsrett (OMF)","t":2012.320,"v":0.65},{"serie":"Obligasjoner med fortrinnsrett (OMF)","t":2012.356,"v":0.65},{"serie":"Obligasjoner med fortrinnsrett (OMF)","t":2012.379,"v":0.66},{"serie":"Obligasjoner med fortrinnsrett (OMF)","t":2012.403,"v":0.69},{"serie":"Obligasjoner med fortrinnsrett (OMF)","t":2012.427,"v":0.72},{"serie":"Obligasjoner med fortrinnsrett (OMF)","t":2012.485,"v":0.72},{"serie":"Obligasjoner med fortrinnsrett (OMF)","t":2012.521,"v":0.705},{"serie":"Obligasjoner med fortrinnsrett (OMF)","t":2012.545,"v":0.70},{"serie":"Obligasjoner med fortrinnsrett (OMF)","t":2012.568,"v":0.69},{"serie":"Obligasjoner med fortrinnsrett (OMF)","t":2012.586,"v":0.66},{"serie":"Obligasjoner med fortrinnsrett (OMF)","t":2012.610,"v":0.63},{"serie":"Obligasjoner med fortrinnsrett (OMF)","t":2012.639,"v":0.583},{"serie":"Obligasjoner med fortrinnsrett (OMF)","t":2012.663,"v":0.57},{"serie":"Obligasjoner med fortrinnsrett (OMF)","t":2012.680,"v":0.57},{"serie":"Obligasjoner med fortrinnsrett (OMF)","t":2012.698,"v":0.533},{"serie":"Obligasjoner med fortrinnsrett (OMF)","t":2012.716,"v":0.523},{"serie":"Obligasjoner med fortrinnsrett (OMF)","t":2012.739,"v":0.523},{"serie":"Obligasjoner med fortrinnsrett (OMF)","t":2012.757,"v":0.513},{"serie":"Obligasjoner med fortrinnsrett (OMF)","t":2012.793,"v":0.513},{"serie":"Obligasjoner med fortrinnsrett (OMF)","t":2012.810,"v":0.50},{"serie":"Obligasjoner med fortrinnsrett (OMF)","t":2012.834,"v":0.50},{"serie":"Obligasjoner med fortrinnsrett (OMF)","t":2012.852,"v":0.48},{"serie":"Obligasjoner med fortrinnsrett (OMF)","t":2012.889,"v":0.48}
]},
"layer":[
{"data":{"values":[{"zero":0}]},
 "mark":{"type":"rule","color":"#8a8a8a","strokeWidth":2},
 "encoding":{"y":{"field":"zero","type":"quantitative","scale":{"domain":[-0.5,3.5],"nice":false,"zero":false},
   "axis":{"orient":"right","title":null,"values":[-0.5,0,0.5,1,1.5,2,2.5,3,3.5],"labelExpr":"datum.value < 0 ? '-' + format(-datum.value, '.1f') : format(datum.value, '.1f')","labelFontSize":45,"tickSize":-14,"labelPadding":58,"labelOverlap":false,"labelBound":false,"labelFlush":false}}}},
{"mark":{"type":"line","strokeWidth":4.8,"strokeJoin":"round"},
 "encoding":{
  "x":{"field":"t","type":"quantitative","scale":{"domain":[2007,2012.889],"nice":false,"zero":false},
   "axis":{"orient":"bottom","title":null,"values":[2007,2008,2009,2010,2011,2012],"labelExpr":"'jan. ' + slice(format(datum.value, 'd'), 2)","labelFontSize":46.5,"tickSize":-14,"labelPadding":90,"labelBaseline":"alphabetic","labelFlush":false,"labelOverlap":false,"labelBound":false}},
  "y":{"field":"v","type":"quantitative",
   "axis":{"orient":"left","title":null,"values":[-0.5,0,0.5,1,1.5,2,2.5,3,3.5],"labelExpr":"datum.value < 0 ? '-' + format(-datum.value, '.1f') : format(datum.value, '.1f')","labelFontSize":45,"tickSize":-15,"labelPadding":58,"labelOverlap":false,"labelBound":false,"labelFlush":false}},
  "color":{"field":"serie","type":"nominal",
   "scale":{"domain":["DNB Bank","Mindre banker med høy rating","Obligasjoner med fortrinnsrett (OMF)"],"range":["#6a6a9c","#ff9900","#993300"]},
   "legend":{"orient":"none","legendX":55,"legendY":18.5,"title":null,"symbolType":"stroke","symbolSize":3025,"symbolStrokeWidth":5,"labelFontSize":42.5,"labelFont":"Liberation Sans","labelColor":"#000000","labelOffset":2,"rowPadding":31,"padding":0,"labelLimit":2000}}}}
],
"resolve":{"axis":{"y":"independent"}}
}
